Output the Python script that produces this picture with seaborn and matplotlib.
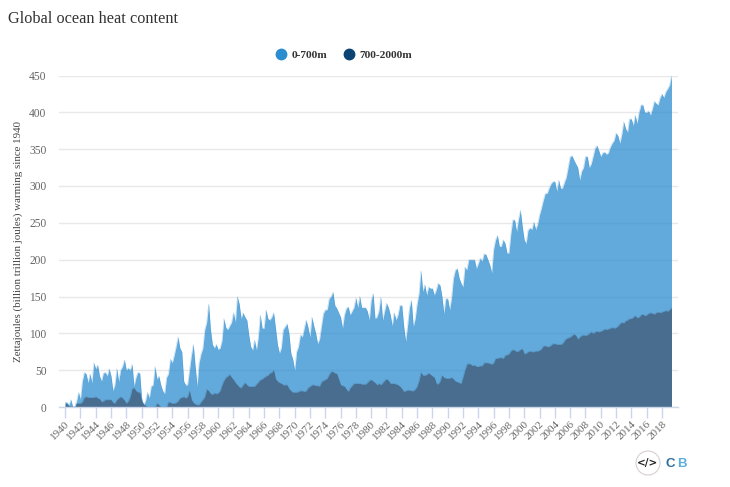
# -*- coding: utf-8 -*-
import numpy as np
import pandas as pd
import matplotlib
matplotlib.use("Agg")
import matplotlib.pyplot as plt
from matplotlib.lines import Line2D
from matplotlib.patches import Ellipse
from matplotlib.transforms import ScaledTranslation
import seaborn as sns

# quarterly readings, 1940 Q1 to 2019 Q2 (ZJ of warming since 1940)
upper_40s = [7,6,3,10, 0,0,8,20, 10,35,47,45, 33,45,33,60, 52,57,42,35,
             46,47,42,52, 42,22,30,52, 35,50,55,64, 50,53,50,58, 28,40,47,46]
upper_50s = [12,3,8,20, 12,28,30,55, 38,42,30,22, 18,40,45,65, 60,70,82,95,
             80,75,35,30, 30,50,70,85, 55,28,60,72, 80,105,115,140, 105,85,80,85]
upper_60s = [78,80,90,120, 108,105,110,115, 128,115,150,140, 120,128,122,118, 98,82,77,91,
             77,95,125,107, 107,132,120,118, 122,128,107,85, 73,80,105,109, 113,100,73,65]
upper_70s = [50,75,82,98, 95,107,118,108, 95,122,110,100, 86,92,110,127, 132,132,147,150,
             156,138,134,128, 122,107,125,134, 136,125,130,135, 148,135,150,135, 135,135,130,118]
upper_80s = [145,154,120,122, 130,149,118,130, 141,135,125,110, 128,118,125,138, 138,110,89,110,
             135,145,109,120, 140,154,185,157, 166,152,163,161, 161,152,159,168, 165,150,127,147]
upper_90s = [147,132,148,175, 186,188,175,168, 163,190,186,200, 200,200,200,188, 195,202,198,208,
             207,200,193,182, 214,227,233,218, 218,227,222,209, 209,235,254,254, 238,255,267,245]
upper_00s = [227,222,240,243, 241,251,241,248, 261,270,281,290, 290,297,303,306, 306,293,308,297,
             297,305,312,326, 340,341,335,330, 325,308,320,325, 340,340,325,330, 340,351,355,348]
upper_10s = [340,345,346,343, 345,353,358,362, 372,368,358,370, 387,378,373,391, 391,382,396,385,
             400,410,410,400, 400,402,396,405, 415,412,410,420, 425,420,428,432, 437,450]

lower_40s = [5,4,1,1, 0,0,5,5, 5,7,13,14, 13,13,13,13, 14,12,11,7,
             8,10,10,10, 10,6,5,10, 12,14,12,9, 5,8,14,25, 26,22,20,20]
lower_50s = [8,4,2,0, 0,0,0,0, 5,3,0,0, 0,0,7,6, 5,5,6,8,
             12,13,14,12, 14,22,10,6, 4,3,3,7, 10,14,24,22, 18,17,19,18]
lower_60s = [19,22,30,36, 40,42,44,40, 37,33,30,27, 26,30,33,30, 28,28,28,28,
             31,34,37,38, 40,42,43,46, 47,50,38,35, 33,32,30,30, 30,25,22,20]
lower_70s = [20,20,21,22, 22,21,22,26, 28,30,30,29, 29,28,34,36, 37,39,44,48,
             48,46,45,38, 30,29,28,24, 21,26,29,32, 32,32,32,31, 31,31,33,36]
lower_80s = [37,35,33,30, 32,30,33,36, 38,36,32,32, 32,31,30,28, 25,21,22,23,
             23,22,22,24, 28,36,47,43, 43,44,46,44, 42,40,32,31, 35,43,40,39]
lower_90s = [39,39,40,38, 35,34,33,32, 41,50,58,59, 58,56,57,55, 55,56,56,60,
             60,60,59,58, 60,66,66,67, 67,66,70,71, 72,76,78,77, 75,76,78,79]
lower_00s = [72,73,75,76, 75,75,76,76, 77,79,83,83, 82,82,84,86, 86,85,85,85,
             86,90,93,94, 95,97,99,97, 92,95,97,98, 97,98,100,102, 100,102,103,102]
lower_10s = [103,104,106,105, 106,107,108,107, 108,110,113,115, 114,117,118,120, 120,122,124,121,
             122,125,126,124, 125,127,128,127, 126,128,129,128, 129,130,131,130, 132,135]

upper = upper_40s + upper_50s + upper_60s + upper_70s + upper_80s + upper_90s + upper_00s + upper_10s
lower = lower_40s + lower_50s + lower_60s + lower_70s + lower_80s + lower_90s + lower_00s + lower_10s
years = 1940 + np.arange(len(upper)) / 4.0
tick_years = list(range(1940, 2020, 2))
y_ticks = list(range(0, 500, 50))
series_names = ["0-700m", "700-2000m"]
legend_colors = ["#2b8cd0", "#0b4472"]
fill_colors = ["#2b8cd0", "#446382"]
fill_alphas = [0.74, 0.85]

sns.set_theme(style="white")
plt.rcParams["font.family"] = ["Liberation Serif", "DejaVu Serif"]

W, H = 730, 487
fig = plt.figure(figsize=(W / 100, H / 100), dpi=100)
fig.patch.set_facecolor("white")
ax = fig.add_axes([59 / W, 1 - 407 / H, (678 - 59) / W, 331.5 / H])

df = pd.DataFrame({"year": years, "upper": upper, "lower": lower})

ax.set_axisbelow(True)
ax.yaxis.grid(True, color="#e8e8e8", lw=1.0)
ax.xaxis.grid(False)

for col, color, alpha in zip(["upper", "lower"], fill_colors, fill_alphas):
    ax.fill_between(df["year"], 0, df[col], color=color, alpha=alpha, lw=0, zorder=2)
    sns.lineplot(data=df, x="year", y=col, color=color, lw=0.3, alpha=0.4, ax=ax, zorder=3)

ax.set_xlim(1939.2, 2020.1)
ax.set_ylim(0, 450)
ax.set_xticks(tick_years)
ax.set_xticklabels(tick_years, rotation=45, ha="right", rotation_mode="anchor",
                   fontsize=8.0, color="#666666")
shift = ScaledTranslation(-4 / 100, 4 / 100, fig.dpi_scale_trans)
for lab in ax.get_xticklabels():
    lab.set_transform(lab.get_transform() + shift)
ax.set_yticks(y_ticks)
ax.set_yticklabels(y_ticks, fontsize=8.3, color="#666666")
ax.tick_params(axis="x", length=8, width=1, color="#ccd6eb", pad=1, bottom=True)
ax.tick_params(axis="y", length=0, pad=9)
for side in ["top", "right", "left"]:
    ax.spines[side].set_visible(False)
ax.spines["bottom"].set_color("#ccd6eb")
ax.spines["bottom"].set_linewidth(1)
ax.set_xlabel("")
ax.set_ylabel("")

fig.text(8 / W, 1 - 19 / H, "Global ocean heat content", fontsize=11.7, color="#333333",
         ha="left", va="center")
fig.text(18 / W, 1 - 242 / H, "Zettajoules (billion trillion joules) warming since 1940",
         rotation=90, fontsize=7.8, color="#444444", ha="center", va="center")

handles = [Line2D([], [], ls="", marker="o", ms=7.5, color=c, label=n)
           for c, n in zip(legend_colors, series_names)]
fig.legend(handles=handles, loc="center", bbox_to_anchor=(343 / W, 1 - 55 / H), ncol=2,
           frameon=False, handletextpad=0.35, columnspacing=1.3, handlelength=1.2,
           prop={"size": 8.2, "weight": "bold"}, labelcolor="#333333")

# logo bottom right
fig.add_artist(Ellipse((648 / W, 1 - 463 / H), 24 / W, 24 / H, transform=fig.transFigure,
                       fc="white", ec="#d8d0d0", lw=0.8))
fig.text(648 / W, 1 - 463 / H, "</>", fontsize=7.5, fontweight="bold", color="#222222",
         family="DejaVu Sans", ha="center", va="center")
fig.text(666 / W, 1 - 464 / H, "C", fontsize=9.5, fontweight="bold", color="#2f6f9f",
         family="Liberation Sans", ha="left", va="center")
fig.text(677 / W, 1 - 464 / H, "B", fontsize=9.5, fontweight="bold", color="#5aaee0",
         family="Liberation Sans", ha="left", va="center")

fig.savefig("out.png", dpi=100)
